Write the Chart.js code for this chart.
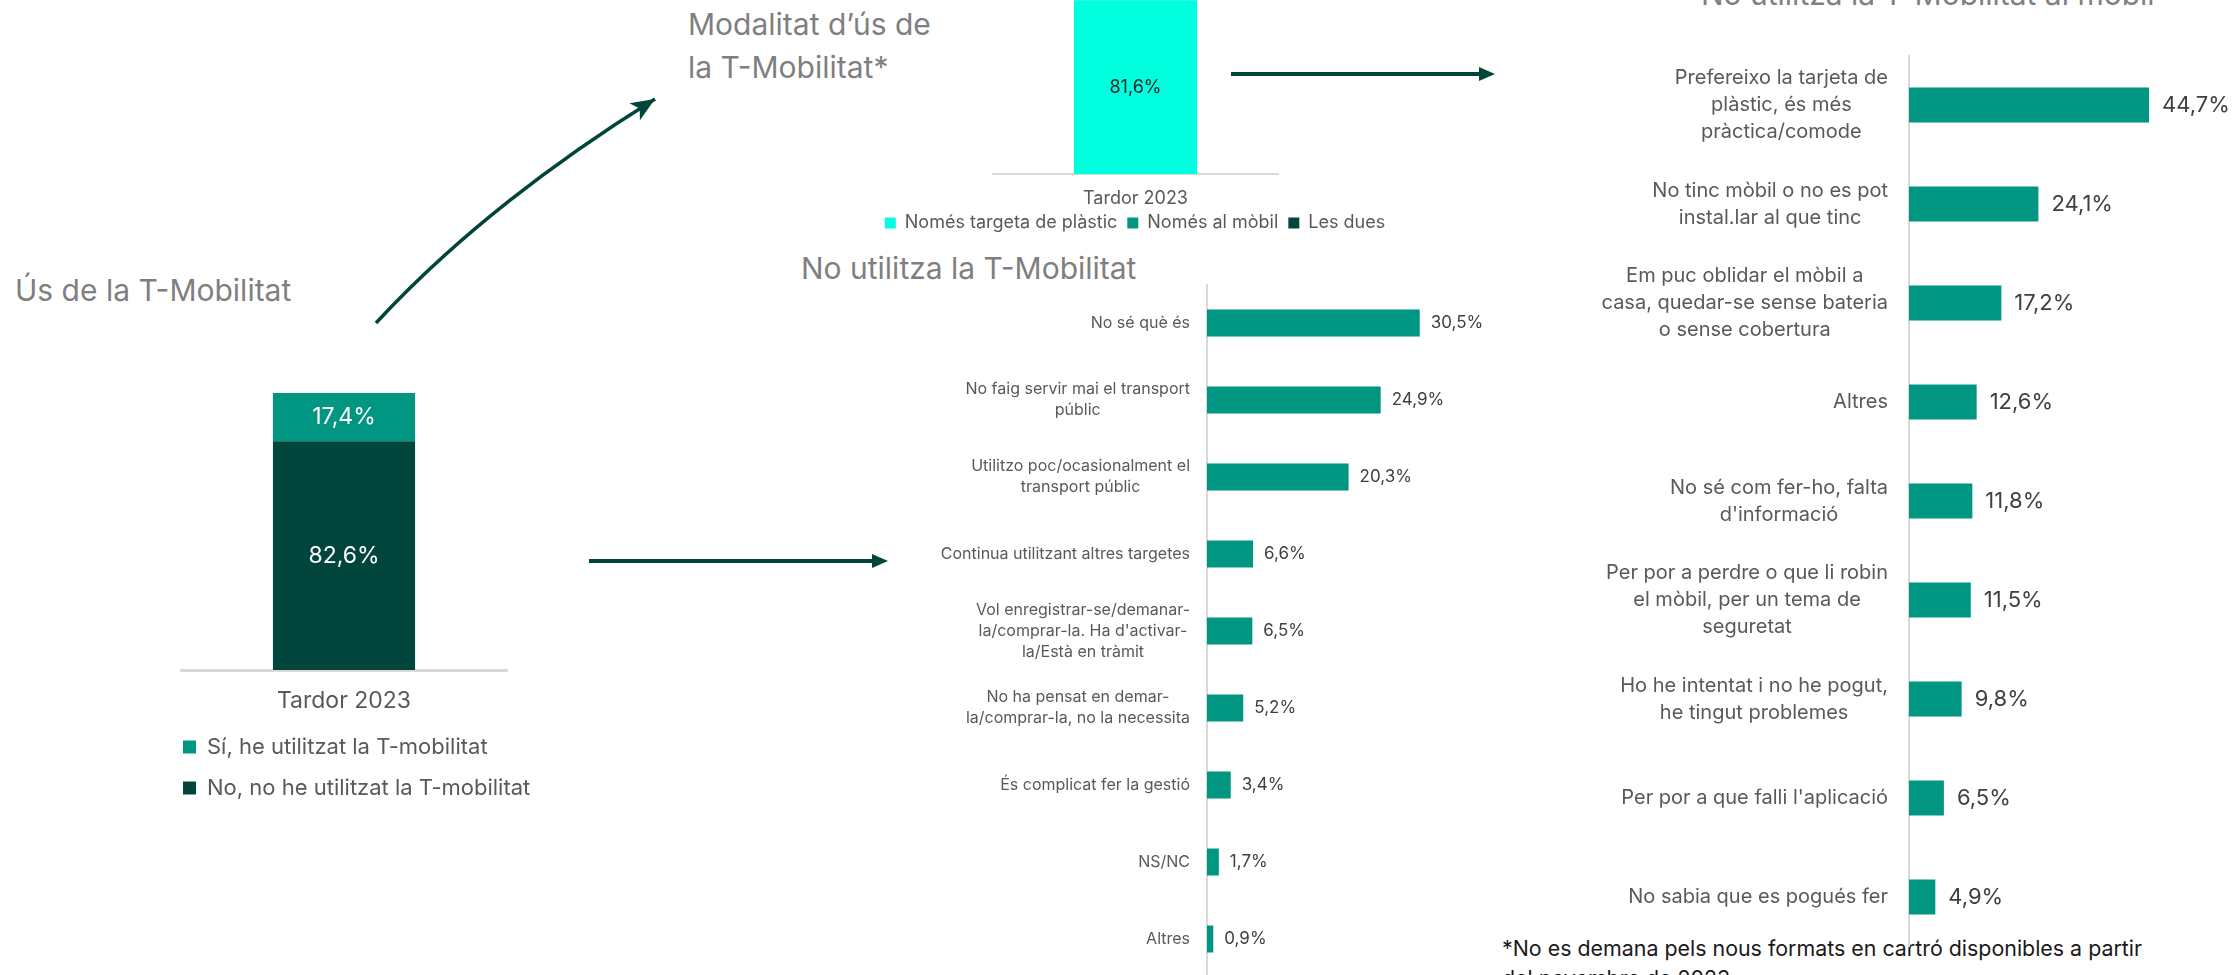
<!DOCTYPE html>
<html>
<head>
<meta charset="utf-8">
<script src="https://cdn.jsdelivr.net/npm/chart.js@4.4.0/dist/chart.umd.min.js"></script>
<style>
  html, body { margin: 0; padding: 0; background: #fff; }
  body { width: 2232px; height: 975px; overflow: hidden; position: relative; font-family: Inter, sans-serif; }
  canvas { position: absolute; }
  .txt { position: absolute; white-space: nowrap; }
  .title { color: #7f7f7f; font-size: 30px; line-height: 30px; }
  #arrows { position: absolute; left: 0; top: 0; pointer-events: none; }
</style>
</head>
<body>

<div class="txt title" style="left:15px; top:275px;">Ús de la T-Mobilitat</div>
<div class="txt title" style="left:688px; top:3px; line-height:43px;">Modalitat d’ús de<br>la T-Mobilitat*</div>
<div class="txt title" style="left:801px; top:253px;">No utilitza la T-Mobilitat</div>
<div class="txt title" style="left:1701px; top:-21px;">No utilitza la T-Mobilitat al mòbil</div>
<div class="txt" style="left:1502px; top:933px; font-size:21.4px; line-height:30px; color:#1a1a1a;">*No es demana pels nous formats en cartró disponibles a partir<br>del novembre de 2023</div>

<canvas id="c1" width="420" height="426" style="left:164px; top:383px;"></canvas>
<canvas id="c2" width="570" height="292" style="left:850px; top:-50px;"></canvas>
<canvas id="c3" width="660" height="720" style="left:880px; top:270px;"></canvas>
<canvas id="c4" width="692" height="920" style="left:1540px; top:40px;"></canvas>

<svg id="arrows" width="2232" height="975">
  <defs>
    <marker id="head" markerUnits="userSpaceOnUse" markerWidth="26" markerHeight="22" refX="24" refY="11" orient="auto">
      <path d="M0,1 L24,11 L0,21 L6,11 z" fill="#00443A"/>
    </marker>
  </defs>
  <path d="M376,323 Q485,205 655,99" stroke="#00443A" stroke-width="3.5" fill="none" marker-end="url(#head)"/>
  <line x1="589" y1="561" x2="876" y2="561" stroke="#00443A" stroke-width="4"/>
  <path d="M872,554 L888,561 L872,568 z" fill="#00443A"/>
  <line x1="1231" y1="74" x2="1482" y2="74" stroke="#00443A" stroke-width="4"/>
  <path d="M1479,67 L1495,74 L1479,81 z" fill="#00443A"/>
</svg>

<script>
// Ús de la T-Mobilitat
const usLabels = ['Tardor 2023'];
const usNo = [82.6];
const usSi = [17.4];

// Modalitat d'ús (the two upper segments are cut off in the picture, estimated)
const modLabels = ['Tardor 2023'];
const modPlastic = [81.6];
const modMobil = [10.2];
const modDues = [8.2];

// No utilitza la T-Mobilitat
const noUsaLabels = [
  'No sé què és',
  ['No faig servir mai el transport', 'públic'],
  ['Utilitzo poc/ocasionalment el', 'transport públic'],
  'Continua utilitzant altres targetes',
  ['Vol enregistrar-se/demanar-', "la/comprar-la. Ha d'activar-", 'la/Està en tràmit'],
  ['No ha pensat en demar-', 'la/comprar-la, no la necessita'],
  'És complicat fer la gestió',
  'NS/NC',
  'Altres'
];
const noUsaValues = [30.5, 24.9, 20.3, 6.6, 6.5, 5.2, 3.4, 1.7, 0.9];

// No utilitza la T-Mobilitat al mòbil
const noMobilLabels = [
  ['Prefereixo la tarjeta de', 'plàstic, és més', 'pràctica/comode'],
  ['No tinc mòbil o no es pot', 'instal.lar al que tinc'],
  ['Em puc oblidar el mòbil a', 'casa, quedar-se sense bateria', 'o sense cobertura'],
  'Altres',
  ['No sé com fer-ho, falta', "d'informació"],
  ['Per por a perdre o que li robin', 'el mòbil, per un tema de', 'seguretat'],
  ['Ho he intentat i no he pogut,', 'he tingut problemes'],
  "Per por a que falli l'aplicació",
  'No sabia que es pogués fer'
];
const noMobilValues = [44.7, 24.1, 17.2, 12.6, 11.8, 11.5, 9.8, 6.5, 4.9];

const TEAL = '#009682';
const DARK = '#02453D';
const CYAN = '#00FFDF';
const LINE = '#D9D9D9';

Chart.defaults.font.family = 'Inter, sans-serif';
Chart.defaults.animation = false;
Chart.defaults.events = [];
Chart.defaults.plugins.tooltip.enabled = false;

const pct = v => v.toFixed(1).replace('.', ',') + '%';

// value text, inside the bar (stacked) or after its end (horizontal)
const barText = {
  id: 'barText',
  afterDatasetsDraw(chart, args, opts) {
    const ctx = chart.ctx;
    ctx.save();
    ctx.font = opts.font;
    ctx.textBaseline = 'middle';
    chart.data.datasets.forEach((ds, i) => {
      chart.getDatasetMeta(i).data.forEach((bar, j) => {
        const v = ds.data[j];
        if (opts.inside) {
          const c = bar.getCenterPoint();
          ctx.fillStyle = ds.textColor || '#fff';
          ctx.textAlign = 'center';
          ctx.fillText(pct(v), c.x, c.y);
        } else {
          ctx.fillStyle = opts.color;
          ctx.textAlign = 'left';
          ctx.fillText(pct(v), bar.x + opts.gap, bar.y);
        }
      });
    });
    ctx.restore();
  }
};

// category labels: block right aligned to the axis, lines centred in the block
const sideLabels = {
  id: 'sideLabels',
  afterDraw(chart, args, opts) {
    const ctx = chart.ctx;
    const y = chart.scales.y;
    const right = chart.chartArea.left - opts.gap;
    ctx.save();
    ctx.font = opts.font;
    ctx.fillStyle = opts.color;
    ctx.textAlign = 'center';
    ctx.textBaseline = 'middle';
    chart.data.labels.forEach((lab, i) => {
      const lines = [].concat(lab);
      const w = Math.max(...lines.map(l => ctx.measureText(l).width));
      const y0 = y.getPixelForValue(i) - (lines.length - 1) * opts.lineHeight / 2;
      lines.forEach((l, k) => ctx.fillText(l, right - w / 2, y0 + k * opts.lineHeight));
    });
    ctx.restore();
  }
};

// empty axis used only as a spacer
const hidden = width => ({
  display: true,
  ticks: { display: false },
  grid: { display: false },
  border: { display: false },
  afterFit: s => { s.width = width; }
});

// 1. Ús de la T-Mobilitat
new Chart(document.getElementById('c1'), {
  type: 'bar',
  data: {
    labels: usLabels,
    datasets: [
      { label: 'No, no he utilitzat la T-mobilitat', data: usNo, backgroundColor: DARK },
      { label: 'Sí, he utilitzat la T-mobilitat', data: usSi, backgroundColor: TEAL }
    ]
  },
  options: {
    responsive: false,
    devicePixelRatio: 1,
    layout: { padding: { top: 10, right: 0, bottom: 0, left: 0 } },
    datasets: { bar: { barPercentage: 0.436, categoryPercentage: 1 } },
    scales: {
      x: {
        stacked: true,
        grid: { display: false, drawTicks: false },
        border: { display: true, color: LINE, width: 3 },
        ticks: { color: '#595959', font: { size: 23 }, padding: 17 },
        afterFit: s => { s.height = 47; }
      },
      y: Object.assign(hidden(17), { stacked: true, min: 0, max: 100 }),
      y2: Object.assign(hidden(77), { position: 'right' })
    },
    plugins: {
      legend: {
        position: 'bottom',
        align: 'start',
        reverse: true,
        labels: { boxWidth: 13, boxHeight: 13, padding: 19, color: '#595959', font: { size: 22 } }
      },
      barText: { inside: true, font: '23px Inter, sans-serif' }
    }
  },
  plugins: [barText]
});

// 2. Modalitat d'ús de la T-Mobilitat
new Chart(document.getElementById('c2'), {
  type: 'bar',
  data: {
    labels: modLabels,
    datasets: [
      { label: 'Només targeta de plàstic', data: modPlastic, backgroundColor: CYAN, textColor: '#262626' },
      { label: 'Només al mòbil', data: modMobil, backgroundColor: TEAL },
      { label: 'Les dues', data: modDues, backgroundColor: DARK }
    ]
  },
  options: {
    responsive: false,
    devicePixelRatio: 1,
    layout: { padding: { top: 11, right: 0, bottom: 0, left: 0 } },
    datasets: { bar: { barPercentage: 0.432, categoryPercentage: 1 } },
    scales: {
      x: {
        stacked: true,
        grid: { display: false, drawTicks: false },
        border: { display: true, color: LINE, width: 2 },
        ticks: { color: '#595959', font: { size: 18 }, padding: 14 },
        afterFit: s => { s.height = 30; }
      },
      y: Object.assign(hidden(143), { stacked: true, min: 0, max: 100 }),
      y2: Object.assign(hidden(142), { position: 'right' })
    },
    plugins: {
      legend: {
        position: 'bottom',
        labels: { boxWidth: 11, boxHeight: 11, padding: 10, color: '#595959', font: { size: 18 } }
      },
      barText: { inside: true, font: '18px Inter, sans-serif' }
    }
  },
  plugins: [barText]
});

// 3. No utilitza la T-Mobilitat
new Chart(document.getElementById('c3'), {
  type: 'bar',
  data: {
    labels: noUsaLabels,
    datasets: [{ data: noUsaValues, backgroundColor: TEAL }]
  },
  options: {
    indexAxis: 'y',
    responsive: false,
    devicePixelRatio: 1,
    layout: { padding: { top: 14.5, right: 54, bottom: 12.5, left: 0 } },
    datasets: { bar: { barPercentage: 0.35, categoryPercentage: 1 } },
    scales: {
      x: { display: false, min: 0, max: 40 },
      y: {
        ticks: { display: false },
        grid: { display: false },
        border: { display: true, color: LINE, width: 2 },
        afterFit: s => { s.width = 327; }
      }
    },
    plugins: {
      legend: { display: false },
      barText: { inside: false, gap: 11, color: '#404040', font: '17px Inter, sans-serif' },
      sideLabels: { gap: 17, lineHeight: 21, color: '#595959', font: '16px Inter, sans-serif' }
    }
  },
  plugins: [barText, sideLabels]
});

// 4. No utilitza la T-Mobilitat al mòbil
new Chart(document.getElementById('c4'), {
  type: 'bar',
  data: {
    labels: noMobilLabels,
    datasets: [{ data: noMobilValues, backgroundColor: TEAL }]
  },
  options: {
    indexAxis: 'y',
    responsive: false,
    devicePixelRatio: 1,
    layout: { padding: { top: 15.5, right: 54.5, bottom: 13.5, left: 0 } },
    datasets: { bar: { barPercentage: 0.354, categoryPercentage: 1 } },
    scales: {
      x: { display: false, min: 0, max: 50 },
      y: {
        ticks: { display: false },
        grid: { display: false },
        border: { display: true, color: LINE, width: 2 },
        afterFit: s => { s.width = 369; }
      }
    },
    plugins: {
      legend: { display: false },
      barText: { inside: false, gap: 13, color: '#404040', font: '22px Inter, sans-serif' },
      sideLabels: { gap: 21, lineHeight: 27, color: '#595959', font: '20px Inter, sans-serif' }
    }
  },
  plugins: [barText, sideLabels]
});
</script>
</body>
</html>
